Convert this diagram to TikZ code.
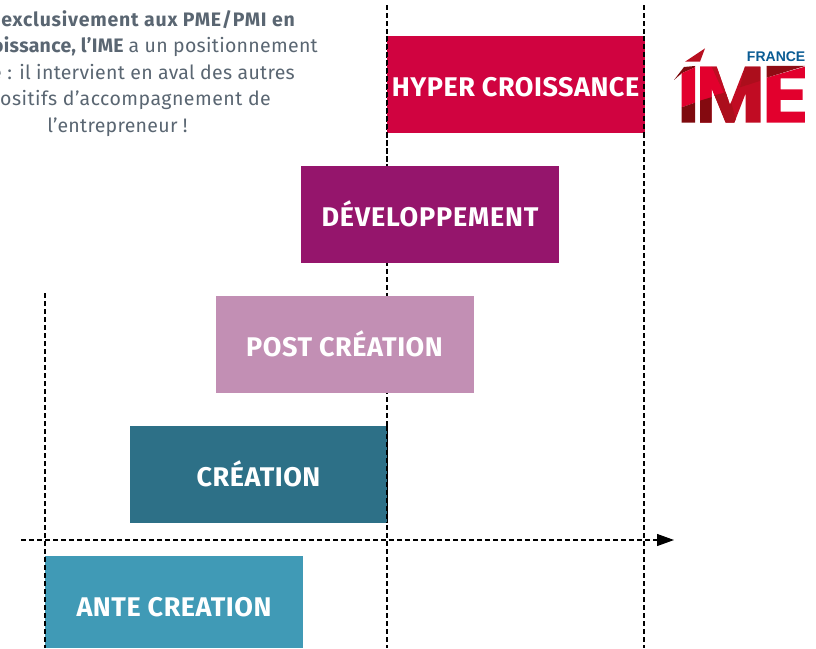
\documentclass[tikz,border=0pt]{standalone}
\usepackage{fontspec}
\setmainfont{Fira Sans}[LetterSpace=1.5]
\newfontfamily\logofont{Liberation Sans}
\usetikzlibrary{arrows.meta}
\definecolor{hyper}{HTML}{D00340}
\definecolor{dev}{HTML}{95156C}
\definecolor{post}{HTML}{C28FB4}
\definecolor{crea}{HTML}{2D7087}
\definecolor{ante}{HTML}{409AB6}
\definecolor{greytext}{HTML}{5A6672}
\definecolor{logoblue}{HTML}{0A5C94}
\definecolor{lred}{HTML}{E2002D}
\definecolor{lmid}{HTML}{B80F20}
\definecolor{ldark}{HTML}{7E0A0E}
\tikzset{
  phase/.style={minimum width=258pt,minimum height=97pt,inner sep=0pt,outer sep=0pt,text=white,text height=23pt,text depth=0pt,font=\fontsize{27}{30}\selectfont\bfseries\addfontfeatures{LetterSpace=2}},
  guide/.style={black,line width=1.1pt,dash pattern=on 5pt off 3pt},
  para/.style={inner sep=0pt,text=greytext,font=\fontsize{19.5}{22}\selectfont},
}
\begin{document}
\begin{tikzpicture}[x=1pt,y=-1pt]
\useasboundingbox (0,0) rectangle (816,648);
\fill[white] (0,0) rectangle (816,648);
% guide end points
\coordinate (g1t) at (45,293); \coordinate (g1b) at (45,648);
\coordinate (g2t) at (387,5);  \coordinate (g2b) at (387,648);
\coordinate (g3t) at (644,5);  \coordinate (g3b) at (644,648);
\coordinate (axl) at (21,540); \coordinate (axr) at (674,540);
\draw[guide] (g2t) -- (g2b);
\draw[guide] (g3t) -- (g3b);
% boxes
\node[phase,fill=hyper] (hyperbox) at (515.5,84.5) {HYPER CROISSANCE};
\node[phase,fill=dev] (devbox) at (430,214.5) {\addfontfeatures{LetterSpace=3}DÉVELOPPEMENT};
\node[phase,fill=post] (postbox) at (345,344.5) {\hspace*{-1pt}POST CRÉATION};
\node[phase,fill=crea,minimum width=257pt] (creabox) at (258.5,474.5) {CRÉATION};
\node[phase,fill=ante,minimum height=92pt,text height=28pt] (antebox) at (174,602) {ANTE CREATION};
\draw[guide] (g1t) -- (g1b);
\draw[guide,-{Triangle[length=17pt,width=12pt,sep=0pt]}] (axl) -- (axr);
\draw[guide] (387,36) -- (387,166);
\draw[guide] (387,426) -- (387,523);
\draw[guide] (644,36) -- (644,133);
% paragraph (cut by the page's left edge)
\node[para,anchor=base east] (l1) at (295,26) {\bfseries\addfontfeatures{LetterSpace=4}exclusivement aux PME/PMI en};
\node[para,anchor=base east] (l2) at (318,52.5) {\bfseries croissance, l’IME \mdseries a un positionnement};
\node[para,anchor=base east] (l3) at (295,79) {unique : il intervient en aval des autres};
\node[para,anchor=base east] (l4) at (271,105.5) {\addfontfeatures{LetterSpace=2.5}dispositifs d’accompagnement de};
\node[para,anchor=base] (l5) at (117.5,132) {l’entrepreneur !};
% logo
\node[anchor=base east,inner sep=0pt,text=logoblue,font=\logofont\fontsize{14}{14}\selectfont\bfseries] (fr) at (805.5,61) {FRANCE};
\begin{scope}[shift={(660,30)},x=0.3333pt,y=-0.3333pt]
  \fill[lmid] (75,95) -- (135,55) -- (120,95) -- cycle;
  \fill[ldark] (42,150) -- (72,111) -- (105,108) -- (105,112) -- (65,130) -- cycle;
  \fill[lred] (65,130) -- (105,112) -- (105,218) -- (65,232) -- cycle;
  \fill[ldark] (65,232) -- (105,218) -- (105,278) -- (65,278) -- cycle;
  % E
  \fill[lred] (320,143) -- (435,110) -- (435,145) -- (362,145) -- (362,178) -- (428,178) -- (428,210) -- (362,210) -- (362,245) -- (435,245) -- (435,278) -- (320,278) -- cycle;
  \fill[ldark!70!lmid] (320,108) -- (435,108) -- (320,143) -- cycle;
\end{scope}
% M of the logo
\begin{scope}[shift={(695,60)},x=0.3333pt,y=-0.3333pt]
  \begin{scope}
    \clip (15,20) -- (65,20) -- (105,135) -- (150,20) -- (197,20) -- (197,188) -- (152,188) -- (152,100) -- (118,188) -- (92,188) -- (50,85) -- (50,188) -- (15,188) -- cycle;
    \fill[lmid!80!lred] (0,0) rectangle (210,200);
    \fill[lred] (15,20) -- (50,20) -- (92,110) -- (15,122) -- cycle;
    \fill[lmid!85!lred] (50,20) -- (65,20) -- (100,120) -- (92,110) -- cycle;
    \fill[ldark!90!lmid] (15,122) -- (55,110) -- (55,188) -- (15,188) -- cycle;
    \fill[lmid!80!ldark] (50,108) -- (100,95) -- (125,188) -- (85,188) -- cycle;
    \fill[lmid!80!ldark] (150,20) -- (197,20) -- (197,62) -- (135,82) -- cycle;
  \end{scope}
\end{scope}
\end{tikzpicture}
\end{document}
